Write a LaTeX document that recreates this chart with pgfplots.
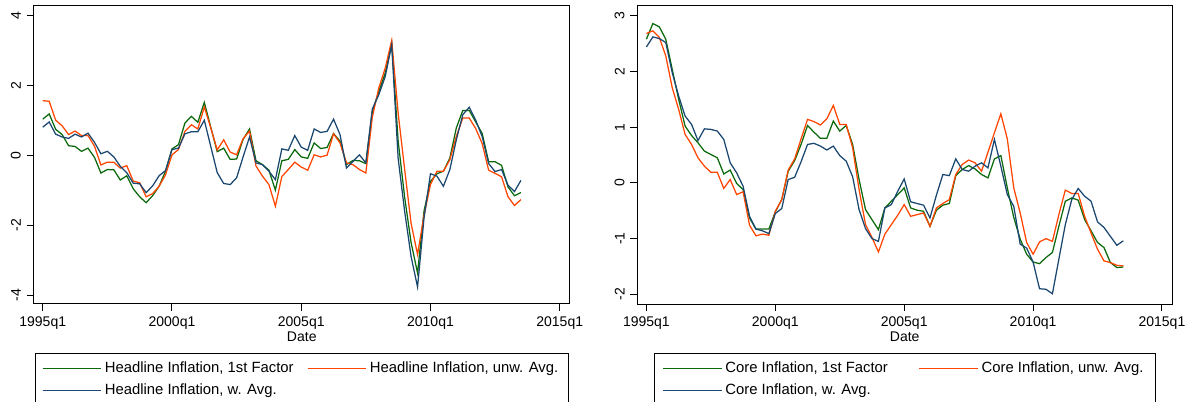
\documentclass[border=0pt]{standalone}
\usepackage{fontspec}
\setmainfont{Liberation Sans}
\usepackage{pgfplots}
\usepackage{pgfplotstable}
\pgfplotsset{compat=1.18}

\definecolor{sgreen}{RGB}{10,105,10}
\definecolor{sorange}{RGB}{255,69,0}
\definecolor{sblue}{RGB}{26,71,111}

% headline inflation: 1st factor, unweighted avg., weighted avg.
\pgfplotstableread{
date g o b
1995.00 1.03 1.56 0.80
1995.25 1.18 1.54 0.95
1995.50 0.74 1.00 0.60
1995.75 0.59 0.84 0.52
1996.00 0.27 0.59 0.48
1996.25 0.25 0.69 0.60
1996.50 0.11 0.56 0.52
1996.75 0.20 0.56 0.63
1997.00 -0.06 0.26 0.37
1997.25 -0.51 -0.28 0.04
1997.50 -0.41 -0.20 0.11
1997.75 -0.42 -0.20 -0.05
1998.00 -0.71 -0.37 -0.32
1998.25 -0.59 -0.30 -0.50
1998.50 -0.96 -0.74 -0.80
1998.75 -1.19 -0.79 -0.82
1999.00 -1.36 -1.19 -1.07
1999.25 -1.16 -1.10 -0.88
1999.50 -0.89 -0.89 -0.59
1999.75 -0.46 -0.56 -0.44
2000.00 0.18 0.01 0.16
2000.25 0.30 0.16 0.20
2000.50 0.92 0.68 0.61
2000.75 1.11 0.87 0.67
2001.00 0.94 0.75 0.67
2001.25 1.51 1.38 1.00
2001.50 0.80 0.78 0.25
2001.75 0.10 0.15 -0.50
2002.00 0.20 0.44 -0.81
2002.25 -0.12 0.09 -0.84
2002.50 -0.11 0.01 -0.65
2002.75 0.45 0.47 -0.05
2003.00 0.75 0.69 0.52
2003.25 -0.16 -0.31 -0.22
2003.50 -0.27 -0.60 -0.27
2003.75 -0.43 -0.84 -0.46
2004.00 -1.00 -1.46 -0.70
2004.25 -0.16 -0.61 0.18
2004.50 -0.12 -0.41 0.14
2004.75 0.16 -0.20 0.56
2005.00 -0.05 -0.34 0.23
2005.25 -0.09 -0.43 0.14
2005.50 0.35 0.01 0.75
2005.75 0.19 -0.05 0.65
2006.00 0.22 0.00 0.68
2006.25 0.62 0.61 1.03
2006.50 0.40 0.35 0.59
2006.75 -0.27 -0.22 -0.37
2007.00 -0.15 -0.27 -0.18
2007.25 -0.16 -0.41 0.01
2007.50 -0.24 -0.51 -0.22
2007.75 1.25 1.09 1.32
2008.00 1.82 1.92 1.73
2008.25 2.35 2.49 2.25
2008.50 3.19 3.28 3.16
2008.75 0.40 1.20 -0.10
2009.00 -1.20 -0.40 -1.60
2009.25 -2.50 -1.95 -2.90
2009.50 -3.37 -2.84 -3.77
2009.75 -1.60 -1.72 -1.80
2010.00 -0.75 -0.84 -0.53
2010.25 -0.53 -0.46 -0.60
2010.50 -0.46 -0.46 -0.89
2010.75 -0.08 -0.13 -0.41
2011.00 0.78 0.54 0.44
2011.25 1.28 1.06 1.16
2011.50 1.28 1.06 1.37
2011.75 0.95 0.76 1.00
2012.00 0.62 0.33 0.53
2012.25 -0.19 -0.43 -0.24
2012.50 -0.19 -0.52 -0.47
2012.75 -0.29 -0.62 -0.41
2013.00 -0.91 -1.19 -0.86
2013.25 -1.16 -1.44 -1.04
2013.50 -1.07 -1.27 -0.72
}\headline

% core inflation: 1st factor, unweighted avg., weighted avg.
\pgfplotstableread{
date g o b
1995.00 2.58 2.68 2.44
1995.25 2.86 2.73 2.62
1995.50 2.80 2.61 2.59
1995.75 2.58 2.28 2.52
1996.00 2.04 1.71 1.98
1996.25 1.50 1.32 1.56
1996.50 1.02 0.87 1.20
1996.75 0.85 0.69 1.05
1997.00 0.72 0.45 0.76
1997.25 0.57 0.30 0.97
1997.50 0.51 0.19 0.96
1997.75 0.45 0.19 0.93
1998.00 0.16 -0.10 0.78
1998.25 0.23 0.06 0.36
1998.50 -0.01 -0.21 0.18
1998.75 -0.12 -0.16 -0.06
1999.00 -0.63 -0.76 -0.60
1999.25 -0.83 -0.95 -0.83
1999.50 -0.83 -0.92 -0.86
1999.75 -0.83 -0.94 -0.91
2000.00 -0.52 -0.51 -0.55
2000.25 -0.30 -0.30 -0.46
2000.50 0.21 0.23 0.06
2000.75 0.40 0.43 0.10
2001.00 0.69 0.79 0.38
2001.25 1.03 1.14 0.69
2001.50 0.91 1.10 0.71
2001.75 0.80 1.04 0.66
2002.00 0.80 1.15 0.59
2002.25 1.11 1.39 0.66
2002.50 0.93 1.05 0.49
2002.75 1.03 1.05 0.39
2003.00 0.69 0.63 0.11
2003.25 0.06 -0.12 -0.48
2003.50 -0.48 -0.75 -0.82
2003.75 -0.66 -0.98 -1.00
2004.00 -0.84 -1.24 -1.05
2004.25 -0.45 -0.92 -0.45
2004.50 -0.33 -0.75 -0.39
2004.75 -0.21 -0.58 -0.15
2005.00 -0.09 -0.39 0.07
2005.25 -0.45 -0.60 -0.34
2005.50 -0.49 -0.57 -0.37
2005.75 -0.51 -0.54 -0.40
2006.00 -0.78 -0.78 -0.63
2006.25 -0.49 -0.45 -0.22
2006.50 -0.40 -0.37 0.15
2006.75 -0.37 -0.30 0.13
2007.00 0.13 0.15 0.43
2007.25 0.24 0.33 0.24
2007.50 0.31 0.41 0.21
2007.75 0.25 0.36 0.30
2008.00 0.15 0.21 0.36
2008.25 0.09 0.55 0.27
2008.50 0.43 0.90 0.78
2008.75 0.49 1.24 0.30
2009.00 -0.09 0.79 -0.21
2009.25 -0.62 -0.09 -0.42
2009.50 -1.01 -0.54 -1.10
2009.75 -1.28 -1.07 -1.17
2010.00 -1.42 -1.28 -1.42
2010.25 -1.45 -1.06 -1.90
2010.50 -1.34 -1.00 -1.91
2010.75 -1.25 -1.05 -1.99
2011.00 -0.78 -0.57 -1.37
2011.25 -0.33 -0.13 -0.75
2011.50 -0.27 -0.19 -0.30
2011.75 -0.31 -0.19 -0.10
2012.00 -0.66 -0.60 -0.24
2012.25 -0.86 -0.90 -0.33
2012.50 -1.07 -1.19 -0.70
2012.75 -1.16 -1.40 -0.80
2013.00 -1.43 -1.43 -0.96
2013.25 -1.52 -1.48 -1.12
2013.50 -1.51 -1.49 -1.04
}\core

\pgfplotsset{
  stata/.style={
    scale only axis,
    height=179.2pt,
    xmin=1994.65, xmax=2015.39,
    xtick={1995,2000,2005,2010,2015},
    xticklabels={1995q1,2000q1,2005q1,2010q1,2015q1},
    xtick pos=left, ytick pos=left,
    tick align=outside,
    major tick length=4.2pt,
    minor tick num=0,
    tick style={black, line width=0.6pt},
    axis line style={black, line width=0.6pt},
    tick label style={font=\fontsize{8.4}{10}\selectfont, black},
    yticklabel style={rotate=90, anchor=south},
    xlabel={Date},
    xlabel style={font=\fontsize{8.4}{10}\selectfont, at={(axis description cs:0.5,-0.126)}, anchor=base},
    every axis plot/.append style={line width=0.75pt, no markers},
    legend columns=2,
    legend cell align=left,
    legend image code/.code={
      \draw[##1] (0pt,0pt) -- (32pt,0pt);
      \path (0pt,0pt) -- (35pt,0pt);
    },
    legend style={at={(0.5,-0.163)}, anchor=north, draw=black,
      font=\fontsize{8.9}{10}\selectfont, inner xsep=4pt, inner ysep=3.4pt,
      row sep=1.2pt},
  }
}

\begin{document}
\begin{tikzpicture}
\begin{axis}[stata,
  at={(20.22pt,58.2pt)}, anchor=south west,
  width=321.66pt,
  ymin=-4.257, ymax=4.286,
  ytick={-4,-2,0,2,4}, yticklabels={-4,-2,0,2,4},
]
\addplot[sgreen] table[x=date, y=g] {\headline};
\addlegendentry{Headline Inflation, 1st Factor\hspace*{6pt}\mbox{}}
\addplot[sorange] table[x=date, y=o] {\headline};
\addlegendentry{Headline Inflation, unw. Avg.}
\addplot[sblue] table[x=date, y=b] {\headline};
\addlegendentry{Headline Inflation, w. Avg.}
\end{axis}

\begin{axis}[stata,
  at={(382.44pt,58.2pt)}, anchor=south west,
  width=320.76pt,
  ymin=-2.174, ymax=3.187,
  ytick={-2,-1,0,1,2,3}, yticklabels={-2,-1,0,1,2,3},
  legend style={inner xsep=5.2pt},
]
\addplot[sgreen] table[x=date, y=g] {\core};
\addlegendentry{Core Inflation, 1st Factor\hspace*{16.5pt}\mbox{}}
\addplot[sorange] table[x=date, y=o] {\core};
\addlegendentry{Core Inflation, unw. Avg.}
\addplot[sblue] table[x=date, y=b] {\core};
\addlegendentry{Core Inflation, w. Avg.}
\end{axis}
\pgfresetboundingbox
\useasboundingbox (0pt,0pt) rectangle (716.4pt,240.6pt);
\end{tikzpicture}
\end{document}
